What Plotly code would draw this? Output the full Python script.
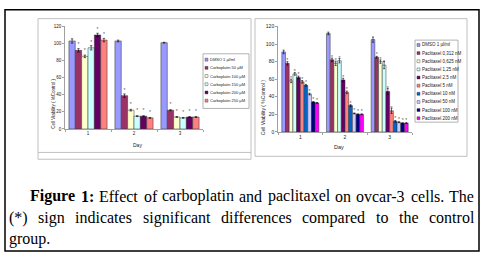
import plotly.graph_objects as go

W, H = 486, 256

days = ["1", "2", "3"]

carbo_labels = ["DMSO 1 µl/ml", "Carboplatin 50 µM", "Carboplatin 100 µM",
                "Carboplatin 150 µM", "Carboplatin 200 µM", "Carboplatin 250 µM"]
carbo_colors = ["#9999FF", "#993366", "#FFFFCC", "#CCFFFF", "#660066", "#FF8080"]
carbo_dmso = [103, 103, 101]
carbo_50 = [92, 39, 22]
carbo_100 = [85, 22, 14]
carbo_150 = [95, 15, 13]
carbo_200 = [110, 15, 14]
carbo_250 = [104, 13, 14]
carbo_values = [carbo_dmso, carbo_50, carbo_100, carbo_150, carbo_200, carbo_250]
carbo_err = [[2.5, 1, 0.5], [2, 2, 0.5], [1.5, 1, 0.5], [2.5, 0.5, 0.5], [2, 0.5, 0.5], [2, 0.5, 0.5]]
carbo_sig = [[False] * 3] + [[True] * 3] * 5

pac_labels = ["DMSO 1 µl/ml", "Paclitaxel 0,312 nM", "Paclitaxel 0,625 nM", "Paclitaxel 1,25 nM",
              "Paclitaxel 2,5 nM", "Paclitaxel 5 nM", "Paclitaxel 10 nM", "Paclitaxel 50 nM",
              "Paclitaxel 100 nM", "Paclitaxel 200 nM"]
pac_colors = ["#9999FF", "#993366", "#FFFFCC", "#CCFFFF", "#660066", "#FF8080",
              "#0066CC", "#CCCCFF", "#000080", "#FF00FF"]
pac_dmso = [91, 112, 105]
pac_0312 = [78, 82, 85]
pac_0625 = [58, 78, 80]
pac_125 = [66, 81, 76]
pac_25 = [62, 59, 46]
pac_5 = [57, 45, 24]
pac_10 = [53, 30, 12]
pac_50 = [43, 21, 11]
pac_100 = [34, 20, 10]
pac_200 = [33, 20, 10]
pac_values = [pac_dmso, pac_0312, pac_0625, pac_125, pac_25, pac_5, pac_10, pac_50, pac_100, pac_200]
pac_err = [[2, 1.5, 3], [2, 2, 1], [2, 2.5, 2], [1.5, 2.5, 4], [1.5, 2, 3.5],
           [1.5, 1.5, 3], [1, 1, 1], [1, 0.5, 0.5], [0.5, 0.5, 0.5], [0.5, 0.5, 0.5]]
pac_sig = [[False] * 3] + [[True] * 3] * 9

y_ticks = [0, 20, 40, 60, 80, 100, 120]
y_title = "Cell Viability ( %Control )"
x_title = "Day"

caption_lines = [
    [("Figure", True), ("1:", True), ("Effect", False), ("of", False), ("carboplatin", False),
     ("and", False), ("paclitaxel", False), ("on", False), ("ovcar-3", False), ("cells.", False), ("The", False)],
    [("(*)", False), ("sign", False), ("indicates", False), ("significant", False), ("differences", False),
     ("compared", False), ("to", False), ("the", False), ("control", False)],
    [("group.", False)],
]


def px(x):
    return x / W


def py(y):
    return 1 - y / H


fig = go.Figure()

for vals, err, sig, lab, col in zip(carbo_values, carbo_err, carbo_sig, carbo_labels, carbo_colors):
    fig.add_trace(go.Bar(
        x=days, y=vals, name=lab, xaxis="x", yaxis="y",
        marker=dict(color=col, line=dict(color="#333333", width=0.5)),
        error_y=dict(type="data", array=err, color="#000000", thickness=0.6, width=1.2),
        text=["*" if s else "" for s in sig], textposition="outside", constraintext="none",
        textfont=dict(size=5, color="#555555", family="Arial"), cliponaxis=False,
        showlegend=False, hoverinfo="skip"))

for vals, err, sig, lab, col in zip(pac_values, pac_err, pac_sig, pac_labels, pac_colors):
    fig.add_trace(go.Bar(
        x=days, y=vals, name=lab, xaxis="x2", yaxis="y2",
        marker=dict(color=col, line=dict(color="#333333", width=0.5)),
        error_y=dict(type="data", array=err, color="#000000", thickness=0.6, width=1.0),
        text=["*" if s else "" for s in sig], textposition="outside", constraintext="none",
        textfont=dict(size=5, color="#555555", family="Arial"), cliponaxis=False,
        showlegend=False, hoverinfo="skip"))

axis_common = dict(showline=True, linecolor="#888888", linewidth=0.8, ticks="outside",
                   ticklen=2, tickcolor="#888888", tickwidth=0.8, showgrid=False, zeroline=False,
                   fixedrange=True)

fig.update_layout(
    width=W, height=H, autosize=False,
    margin=dict(l=0, r=0, t=0, b=0),
    paper_bgcolor="white", plot_bgcolor="white",
    barmode="group", bargap=0.17, bargroupgap=0,
    font=dict(family="Arial", color="#222222"),
    xaxis=dict(domain=[px(65), px(203)], anchor="y", type="category", tickson="boundaries",
               tickfont=dict(size=4.5), **axis_common),
    yaxis=dict(domain=[py(129), py(24)], anchor="x", range=[0, 120], tickvals=y_ticks,
               tickfont=dict(size=4.5), **axis_common),
    xaxis2=dict(domain=[px(278), px(412)], anchor="y2", type="category", tickson="boundaries",
                tickfont=dict(size=5), **axis_common),
    yaxis2=dict(domain=[py(132), py(24)], anchor="x2", range=[0, 120], tickvals=y_ticks,
                tickfont=dict(size=5), **axis_common),
)

shapes = []
annotations = []

# outer frame
shapes.append(dict(type="rect", xref="paper", yref="paper", x0=px(5), x1=px(479), y0=py(254), y1=py(7),
                   line=dict(color="black", width=1.5), layer="below"))
# panels
shapes.append(dict(type="rect", xref="paper", yref="paper", x0=px(38), x1=px(251), y0=py(160), y1=py(16),
                   line=dict(color="#C0C0C0", width=1), layer="below"))
shapes.append(dict(type="line", xref="paper", yref="paper", x0=px(38), x1=px(251), y0=py(153), y1=py(153),
                   line=dict(color="#C0C0C0", width=1), layer="below"))
shapes.append(dict(type="rect", xref="paper", yref="paper", x0=px(255), x1=px(467), y0=py(157), y1=py(16),
                   line=dict(color="#C0C0C0", width=1), layer="below"))


def add_legend(labels, colors, box, y0, step, sq_x, txt_x, size):
    shapes.append(dict(type="rect", xref="paper", yref="paper", x0=px(box[0]), x1=px(box[1]),
                       y0=py(box[3]), y1=py(box[2]), fillcolor="white",
                       line=dict(color="#A0A0A0", width=0.8), layer="above"))
    for i, (lab, col) in enumerate(zip(labels, colors)):
        yc = y0 + i * step
        shapes.append(dict(type="rect", xref="paper", yref="paper", x0=px(sq_x), x1=px(sq_x + 3),
                           y0=py(yc + 1.5), y1=py(yc - 1.5), fillcolor=col,
                           line=dict(color="#333333", width=0.4), layer="above"))
        annotations.append(dict(text=lab, xref="paper", yref="paper", x=px(txt_x), y=py(yc),
                                xanchor="left", yanchor="middle", showarrow=False, borderpad=0,
                                font=dict(size=size, color="#222222", family="Arial")))


add_legend(carbo_labels, carbo_colors, (203, 249, 52, 108), 58, 8.4, 205, 209, 4.0)
add_legend(pac_labels, pac_colors, (415, 458, 38, 122), 43, 8.33, 417, 421, 4.5)

# axis titles
annotations.append(dict(text=y_title, xref="paper", yref="paper", x=px(49), y=py(76), textangle=-90,
                        showarrow=False, font=dict(size=4.5, color="#222222")))
annotations.append(dict(text=y_title, xref="paper", yref="paper", x=px(263), y=py(76), textangle=-90,
                        showarrow=False, font=dict(size=5, color="#222222")))
annotations.append(dict(text=x_title, xref="paper", yref="paper", x=px(131), y=py(145),
                        showarrow=False, font=dict(size=5, color="#222222")))
annotations.append(dict(text=x_title, xref="paper", yref="paper", x=px(346), y=py(147),
                        showarrow=False, font=dict(size=5.5, color="#222222")))

# caption, justified word by word using Times metrics
TIMES = {' ': 250, 'a': 444, 'b': 500, 'c': 444, 'd': 500, 'e': 444, 'f': 333, 'g': 500, 'h': 500,
         'i': 278, 'l': 278, 'm': 778, 'n': 500, 'o': 500, 'p': 500, 'r': 333, 's': 389, 't': 278,
         'u': 500, 'v': 500, 'x': 500, '(': 333, ')': 333, '*': 500, '.': 250, '-': 333, '3': 500,
         '1': 500, ':': 278, 'E': 611, 'F': 556, 'T': 611}
TIMES_B = {'F': 611, 'i': 278, 'g': 500, 'u': 556, 'r': 444, 'e': 444, '1': 500, ':': 333}
FS = 16


def wwidth(w, bold):
    tab = TIMES_B if bold else TIMES
    return sum(tab.get(c, 500) for c in w) * FS / 1000.0


line_specs = [(29, 473, True, 198), (8, 473, True, 220), (8, None, False, 242)]
for words, (xs, xe, just, yc) in zip(caption_lines, line_specs):
    widths = [wwidth(w, b) for w, b in words]
    if just and len(words) > 1:
        gap = (xe - xs - sum(widths)) / (len(words) - 1)
    else:
        gap = 4
    x = xs
    for (w, b), wd in zip(words, widths):
        annotations.append(dict(text=f"<b>{w}</b>" if b else w, xref="paper", yref="paper",
                                x=px(x), y=py(yc), xanchor="left", yanchor="middle", showarrow=False,
                                borderpad=0, font=dict(size=FS, color="black", family="Liberation Serif")))
        x += wd + gap

fig.update_layout(shapes=shapes, annotations=annotations)

fig.write_html("out.html", config={"displayModeBar": False, "staticPlot": True},
               post_script="document.body.style.margin='0';document.body.style.overflow='hidden';")
